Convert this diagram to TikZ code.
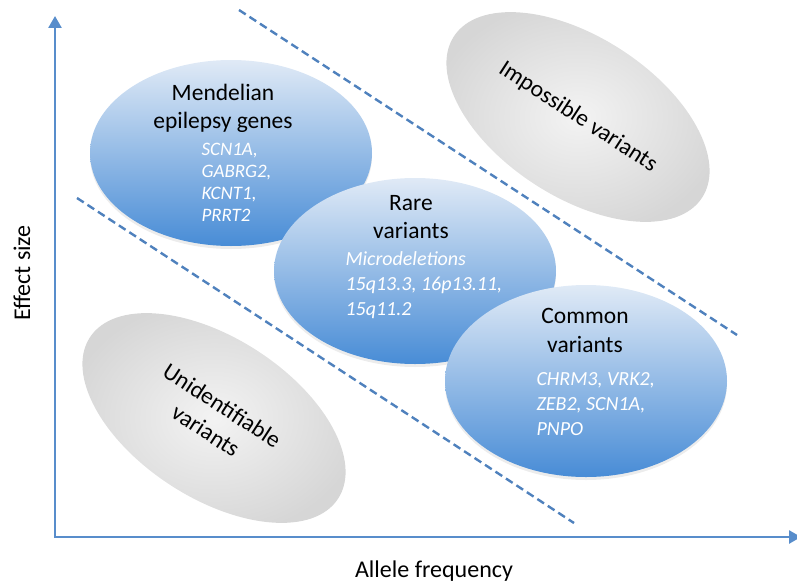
\documentclass[tikz,border=0pt]{standalone}
\usepackage{fontspec}
\setmainfont{Carlito}
\usetikzlibrary{arrows.meta,shapes.geometric,shadows}
\definecolor{axisblue}{RGB}{88,141,203}
\definecolor{dashblue}{RGB}{79,129,189}
\definecolor{blobtop}{RGB}{224,234,246}
\definecolor{blobbot}{RGB}{72,140,214}
\definecolor{greyin}{RGB}{243,243,243}
\definecolor{greyout}{RGB}{214,214,214}

\begin{document}
\begin{tikzpicture}[x=1pt,y=-1pt,
  axis/.style={draw=axisblue, line width=2.6pt, line join=miter,
    {Triangle[width=13pt,length=12pt]}-{Triangle[width=13pt,length=12pt]}},
  divider/.style={draw=dashblue, line width=2.4pt, dash pattern=on 8pt off 4.5pt},
  blob/.style={ellipse, minimum width=282pt, minimum height=186pt, inner sep=0pt,
    top color=blobtop, bottom color=blobbot,
    drop shadow={opacity=0.15, shadow xshift=0pt, shadow yshift=-3pt}},
  greyblob/.style={ellipse, minimum width=296pt, minimum height=160pt, inner sep=0pt,
    inner color=greyin, outer color=greyout, align=center,
    font=\fontsize{23.5}{30}\selectfont},
  title/.style={anchor=base, font=\fontsize{23.5}{28}\selectfont},
  gene/.style={anchor=base west, text=white, font=\fontsize{20}{24}\selectfont\itshape},
  smallgene/.style={gene, font=\fontsize{19}{22}\selectfont\itshape},
  axislabel/.style={font=\fontsize{24}{28}\selectfont}
  ]
\useasboundingbox (0,0) rectangle (797,586);

% axes
\coordinate (ytip) at (55,16);
\coordinate (origin) at (55,537);
\coordinate (xtip) at (801,537);
\draw[axis] (ytip) -- (origin) -- (xtip);
\node[axislabel, rotate=90] (ylab) at (22,273) {Effect size};
\node[axislabel, anchor=base] (xlab) at (434,577) {Allele frequency};

% grey regions
\node[greyblob, rotate=-33] (impossible) at (578,117) {Impossible variants};
\node[greyblob, rotate=-33] (unident) at (214,418) {Unidentifiable\\variants};

% dashed boundaries
\coordinate (u1) at (239,10);
\coordinate (u2) at (737,335);
\coordinate (l1) at (77,198);
\coordinate (l2) at (574,523);
\draw[divider] (u1) -- (u2);
\draw[divider] (l1) -- (l2);

% Mendelian genes
\node[blob] (mendel) at (231,153) {};
\node[title] (mendelT1) at (223,100) {Mendelian};
\node[title] (mendelT2) at (223,128) {epilepsy genes};
\node[smallgene] (mendelG1) at (198,155) {SCN1A,};
\node[smallgene] (mendelG2) at (198,177) {GABRG2,};
\node[smallgene] (mendelG3) at (198,199) {KCNT1,};
\node[smallgene] (mendelG4) at (198,221) {PRRT2};

% rare variants
\node[blob] (rare) at (415,271) {};
\node[title] (rareT1) at (411,210) {Rare};
\node[title] (rareT2) at (411,238) {variants};
\node[gene] (rareG1) at (342,265) {Microdeletions};
\node[gene] (rareG2) at (342,290) {15q13.3, 16p13.11,};
\node[gene] (rareG3) at (342,315) {15q11.2};

% common variants
\node[blob, minimum height=192pt] (common) at (586,381) {};
\node[title] (commonT1) at (585,323) {Common};
\node[title] (commonT2) at (585,352) {variants};
\node[gene] (commonG1) at (533,385) {CHRM3, VRK2,};
\node[gene] (commonG2) at (533,410) {ZEB2, SCN1A,};
\node[gene] (commonG3) at (533,435) {PNPO};
\end{tikzpicture}
\end{document}
